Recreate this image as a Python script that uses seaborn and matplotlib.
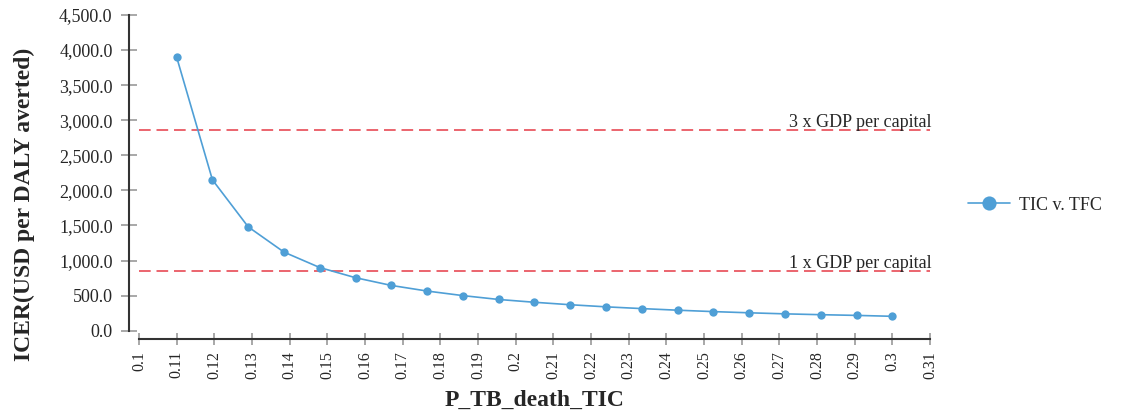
import matplotlib
matplotlib.use("Agg")
import matplotlib.pyplot as plt
import seaborn as sns
import pandas as pd
from matplotlib.ticker import FuncFormatter

# data
p_death = [0.11, 0.1195, 0.129, 0.1385, 0.148, 0.1575, 0.167, 0.1765, 0.186, 0.1955,
           0.205, 0.2145, 0.224, 0.2335, 0.243, 0.2525, 0.262, 0.2715, 0.281, 0.2905, 0.30]
icer = [3900, 2150, 1480, 1120, 900, 755, 645, 565, 500, 445,
        405, 370, 340, 315, 292, 272, 255, 240, 228, 218, 205]
series_name = "TIC v. TFC"
gdp_lines = [2860, 855]
gdp_labels = ["3 x GDP per capital", "1 x GDP per capital"]
x_ticks = [0.1, 0.11, 0.12, 0.13, 0.14, 0.15, 0.16, 0.17, 0.18, 0.19, 0.2,
           0.21, 0.22, 0.23, 0.24, 0.25, 0.26, 0.27, 0.28, 0.29, 0.3, 0.31]
y_ticks = [0, 500, 1000, 1500, 2000, 2500, 3000, 3500, 4000, 4500]

df = pd.DataFrame({"p": p_death, "icer": icer, "serie": series_name})

sns.set_style("ticks")
plt.rcParams["font.family"] = ["Liberation Serif", "DejaVu Serif"]

fig = plt.figure(figsize=(11.29, 4.13), dpi=100)
ax = fig.add_axes([0.1231, 0.1993, 0.7006, 0.7644])

azul = "#4f9fd6"
sns.lineplot(data=df, x="p", y="icer", hue="serie", palette=[azul], marker="o",
             markersize=6, markeredgewidth=0, linewidth=1.2, ax=ax)

for val, txt in zip(gdp_lines, gdp_labels):
    ax.axhline(val, color="#e84a55", ls=(0, (7, 3.5)), lw=1.2, zorder=1)
    ax.text(0.3105, val + 40, txt, ha="right", va="baseline", fontsize=13)

ax.set_xlim(0.1, 0.31)
ax.set_ylim(0, 4500)
ax.set_xticks(x_ticks)
ax.set_xticklabels([f"{t:g}" for t in x_ticks])
ax.set_yticks(y_ticks)
ax.yaxis.set_major_formatter(FuncFormatter(lambda v, _: f"{v:,.1f}"))
ax.tick_params(axis="y", labelsize=13, direction="inout", length=12, width=1.2, color="#999999", pad=6)
ax.tick_params(axis="x", labelsize=11.5, labelrotation=90, direction="inout", length=9,
               width=1.2, color="#999999", pad=4)

for s in ["top", "right"]:
    ax.spines[s].set_visible(False)
ax.spines["left"].set_position(("outward", 7))
ax.spines["bottom"].set_position(("outward", 6))
for s in ["left", "bottom"]:
    ax.spines[s].set_color("#333333")
    ax.spines[s].set_linewidth(1.5)

ax.set_ylabel("ICER(USD per DALY averted)", fontsize=17, fontweight="bold")
ax.yaxis.set_label_coords(-0.131, 0.40)
ax.set_xlabel("P_TB_death_TIC", fontsize=17, fontweight="bold", labelpad=8)

leg = ax.legend(loc="center left", bbox_to_anchor=(952 / 1129, 0.503),
                bbox_transform=fig.transFigure, frameon=False, fontsize=13,
                handlelength=2.3, handletextpad=0.5, markerscale=1.7)

fig.savefig("out.png", dpi=100)
